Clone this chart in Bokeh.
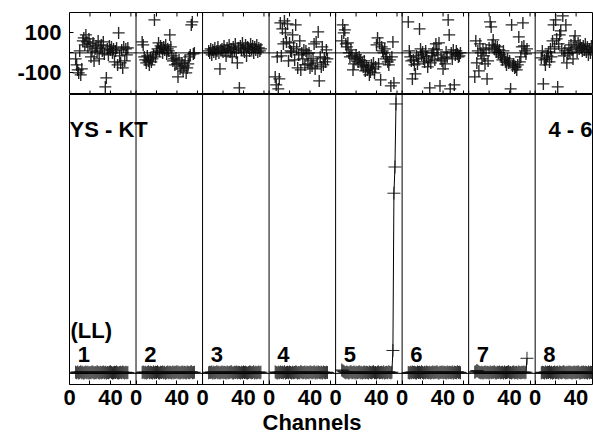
from bokeh.plotting import figure
from bokeh.models import Range1d, FixedTicker, Span, Title
from bokeh.layouts import column
from bokeh.embed import file_html
from bokeh.resources import INLINE
from bokeh.core.properties import value

# ---------------- data ----------------
PANEL_NAMES = ["1", "2", "3", "4", "5", "6", "7", "8"]
PANEL_SPAN = 65                      # channels per IF panel (incl. gap)
CHANNELS = list(range(6, 58))        # plotted channels in each IF
CHANNELS_IF5 = list(range(6, 61))    # IF 5 shows a few more channels

X_TICK_LABELS = [0, 40]
X_MINOR = [20, 60]
PHASE_TICKS = [-100, 100]
PHASE_LIMITS = [-208, 202]
AMP_LIMITS = [-0.04, 1.0]

PHASE_1 = [-30, -60, -85, -100, 10, -110, -80, 60, 75, 40, 90, 55, 30,
           70, 45, -20, 10, 50, -40, 20, 35, 5, 60, -30, 25, 40,
           10, 55, -5, -170, -125, 20, -10, 35, 15, 30, 0, 20, -45,
           10, 25, -60, 100, -15, -50, 15, -75, 30, -40, 20, -10, 25]
PHASE_2 = [55, 40, -20, -35, -50, -15, -40, -60, -25, -45, -30, -10, 165,
           -20, 5, 20, 50, 10, 35, 25, 0, 30, 15, 40, -5, 20,
           10, 90, 30, -15, -40, -30, -60, -25, -55, -120, -35, -80, -70,
           -50, -90, -65, -40, -100, -75, -55, -20, -10, 140, 155, -5, 0]
PHASE_3 = [10, 0, 20, -10, 15, 5, 25, -5, 10, 30, 0, -80, 15,
           20, 5, 35, 10, -15, 25, 15, 40, 5, 20, -20, 30, 10,
           45, 0, -50, 25, -175, 35, 15, 50, 20, 5, 40, -15, 30,
           25, 10, 45, 20, 35, 0, 30, 15, 40, 5, 25, 10, 20]
PHASE_4 = [-120, -160, -20, -180, -130, 150, -15, 120, 45, 160, 100, 55, 145,
           -40, 50, 10, 5, 90, 30, -35, 140, 20, -75, -10, 60, -85,
           0, -30, 15, -60, 10, -5, -55, 0, -75, -40, -65, -30, 45,
           -80, 55, -50, 105, -140, -20, -70, 30, -60, -25, -45, 15, -30]
PHASE_5 = [60, 140, 100, 115, 45, 30, 50, 0, -20, 15, -15, -85, -55,
           -30, -10, -25, -45, -20, -35, -60, -50, -70, -40, -90, -65, -85,
           -75, -110, -95, -60, -80, -50, -100, -70, 40, 75, -55, 50, -135, 30, 10,
           0, 20, -30, -20, -45, -60, -35, -165, -20, 55, -150]
PHASE_6 = [155, 10, -20, -40, -130, -35, -60, -105, -15, -55, -25, 120, 20,
           -10, 5, -30, -45, 10, -20, -70, -40, -175, -50, -15, 0, 20,
           -35, 45, 15, -10, 50, -165, -30, -40, -80, -25, -55, 5, -20,
           165, 90, -180, 0, -30, 15, -160, -10, 10, -5, -20, -15, 0]
PHASE_7 = [-120, 60, -50, 10, -90, 45, 0, -30, 20, -15, -55, 15, -130,
           -40, 25, 155, 130, 40, 65, 20, 35, 5, 30, 0, 15, -10,
           -20, -35, 10, -25, -45, -60, -30, -50, -40, -180, 140, -65, -55,
           -75, -70, -85, -60, 80, -45, -20, 30, 150, 35, 10, -5, 20]
PHASE_8 = [-25, 10, -155, -35, -60, -30, -15, 5, -45, 20, -20, 60, 140,
           30, 165, 70, -170, 45, 90, 110, 20, 185, -15, 10, 140, -50,
           -5, 25, 0, 40, 15, -30, 60, 85, 30, 5, 50, 20, 40, 25,
           10, 35, 15, 45, 5, 30, -10, 20, 0, 35, 15, 25]

AMP_1 = [0.004, 0.002, 0.005, 0.001, 0.003, 0.006, 0.002, 0.004, 0.000, 0.003, 0.005, 0.002, 0.004,
         0.001, 0.003, 0.002, 0.005, 0.004, 0.001, 0.003, 0.002, 0.006, 0.003, 0.001, 0.004, 0.002,
         0.003, 0.005, 0.002, 0.004, 0.001, 0.003, 0.002, 0.004, 0.006, 0.003, 0.001, 0.002, 0.004,
         0.003, 0.005, 0.002, 0.001, 0.003, 0.004, 0.002, 0.005, 0.003, 0.001, 0.004, 0.002, 0.003]
AMP_2 = [0.003, 0.005, 0.002, 0.004, 0.001, 0.003, 0.006, 0.002, 0.004, 0.003, 0.001, 0.005, 0.002,
         0.004, 0.003, 0.006, 0.002, 0.001, 0.004, 0.003, 0.005, 0.002, 0.004, 0.000, 0.003, 0.005,
         0.002, 0.004, 0.003, 0.001, 0.005, 0.002, 0.004, 0.003, 0.006, 0.002, 0.004, 0.001, 0.003,
         0.005, 0.002, 0.004, 0.003, 0.001, 0.005, 0.003, 0.002, 0.004, 0.006, 0.002, 0.003, 0.004]
AMP_3 = [0.002, 0.004, 0.003, 0.005, 0.001, 0.004, 0.002, 0.003, 0.006, 0.002, 0.004, 0.001, 0.003,
         0.005, 0.002, 0.004, 0.003, 0.001, 0.005, 0.002, 0.003, 0.004, 0.006, 0.002, 0.001, 0.004,
         0.003, 0.005, 0.002, 0.004, 0.003, 0.001, 0.004, 0.002, 0.005, 0.003, 0.004, 0.002, 0.001,
         0.003, 0.005, 0.004, 0.002, 0.003, 0.006, 0.001, 0.004, 0.002, 0.003, 0.005, 0.002, 0.004]
AMP_4 = [0.005, 0.003, 0.001, 0.004, 0.002, 0.005, 0.003, 0.004, 0.002, 0.006, 0.001, 0.003, 0.004,
         0.002, 0.005, 0.003, 0.001, 0.004, 0.002, 0.003, 0.005, 0.004, 0.001, 0.003, 0.002, 0.006,
         0.004, 0.002, 0.003, 0.005, 0.001, 0.004, 0.003, 0.002, 0.005, 0.004, 0.002, 0.003, 0.006,
         0.001, 0.004, 0.002, 0.005, 0.003, 0.002, 0.004, 0.001, 0.005, 0.003, 0.002, 0.004, 0.003]
AMP_5 = [0.012, 0.009, 0.007, 0.004, 0.002, 0.005, 0.003, 0.001, 0.004, 0.006, 0.002, 0.003, 0.005,
         0.001, 0.004, 0.002, 0.003, 0.006, 0.002, 0.004, 0.001, 0.003, 0.005, 0.002, 0.004, 0.003,
         0.001, 0.005, 0.003, 0.002, 0.004, 0.006, 0.002, 0.003, 0.001, 0.004, 0.005, 0.002, 0.003,
         0.004, 0.002, 0.005, 0.001, 0.003, 0.004, 0.002, 0.006, 0.003, 0.002, 0.004,
         0.082, 0.646, 0.740, 0.966, 1.500]
AMP_6 = [0.003, 0.001, 0.004, 0.002, 0.005, 0.003, 0.004, 0.002, 0.001, 0.005, 0.003, 0.004, 0.002,
         0.006, 0.003, 0.001, 0.004, 0.002, 0.005, 0.003, 0.002, 0.004, 0.001, 0.003, 0.005, 0.002,
         0.004, 0.003, 0.006, 0.002, 0.001, 0.004, 0.003, 0.005, 0.002, 0.004, 0.003, 0.001, 0.005,
         0.002, 0.004, 0.003, 0.002, 0.005, 0.001, 0.004, 0.003, 0.002, 0.006, 0.003, 0.004, 0.002]
AMP_7 = [0.004, 0.006, 0.010, 0.008, 0.005, 0.003, 0.002, 0.004, 0.001, 0.003, 0.005, 0.002, 0.004,
         0.003, 0.001, 0.005, 0.002, 0.004, 0.003, 0.006, 0.002, 0.001, 0.004, 0.003, 0.005, 0.002,
         0.003, 0.004, 0.001, 0.005, 0.002, 0.003, 0.004, 0.006, 0.002, 0.003, 0.001, 0.004, 0.005,
         0.002, 0.003, 0.004, 0.001, 0.005, 0.003, 0.002, 0.004, 0.003, 0.005, 0.002, 0.004, 0.054]
AMP_8 = [0.002, 0.004, 0.003, 0.001, 0.005, 0.002, 0.004, 0.003, 0.006, 0.002, 0.004, 0.001, 0.003,
         0.005, 0.002, 0.003, 0.004, 0.001, 0.005, 0.003, 0.002, 0.004, 0.006, 0.003, 0.001, 0.004,
         0.002, 0.005, 0.003, 0.004, 0.001, 0.003, 0.005, 0.002, 0.004, 0.003, 0.006, 0.002, 0.001,
         0.004, 0.003, 0.005, 0.002, 0.004, 0.003, 0.001, 0.005, 0.002, 0.004, 0.003, 0.002, 0.004]

PHASES = [PHASE_1, PHASE_2, PHASE_3, PHASE_4, PHASE_5, PHASE_6, PHASE_7, PHASE_8]
AMPS = [AMP_1, AMP_2, AMP_3, AMP_4, AMP_5, AMP_6, AMP_7, AMP_8]
AMP_CHANNELS = [CHANNELS, CHANNELS, CHANNELS, CHANNELS, CHANNELS_IF5, CHANNELS, CHANNELS, CHANNELS]

BASELINE_TEXT = "YS - KT"
IF_RANGE_TEXT = "4 - 6"
POL_TEXT = "(LL)"
X_LABEL = "Channels"

# ---------------- style ----------------
FONT = "Liberation Sans"
FS = "22px"
INK = "black"
W = 593
TOP_H = 94
BOT_H = 340
LEFT = 69
TICK_PX = 4

# shared x scale: IF k occupies [k*PANEL_SPAN, (k+1)*PANEL_SPAN)
x_range = Range1d(0, 512)
offsets = [k * PANEL_SPAN for k in range(len(PANEL_NAMES))]
major = [o + c for o in offsets for c in X_TICK_LABELS]
minor = [o + c for o in offsets for c in X_MINOR]
overrides = {o + c: str(c) for o in offsets for c in X_TICK_LABELS}


def style_inner_axis(ax):
    ax.axis_line_color = None
    ax.major_tick_in = TICK_PX
    ax.major_tick_out = 0
    ax.minor_tick_in = TICK_PX
    ax.minor_tick_out = 0
    ax.major_tick_line_color = INK
    ax.minor_tick_line_color = INK
    ax.major_label_text_font = FONT
    ax.major_label_text_font_style = "bold"
    ax.major_label_text_font_size = FS
    ax.major_label_text_color = INK


def frame_style(p):
    p.xgrid.visible = False
    p.ygrid.visible = False
    p.outline_line_color = INK
    p.outline_line_width = 1
    p.outline_line_alpha = 1
    p.background_fill_color = "white"
    p.border_fill_color = "white"
    for o in offsets[1:]:
        p.add_layout(Span(location=o, dimension="height", line_color=INK, line_width=1))


# ---------------- phase panel ----------------
top = figure(width=W, height=TOP_H, x_range=x_range, y_range=Range1d(*PHASE_LIMITS),
             output_backend="svg", toolbar_location=None, x_axis_location=None,
             min_border_left=LEFT, min_border_right=0, min_border_top=TOP_H - 82,
             min_border_bottom=0)
frame_style(top)
top.add_layout(Span(location=0, dimension="width", line_color=INK, line_width=1))

top.yaxis.ticker = FixedTicker(ticks=PHASE_TICKS, minor_ticks=[0])
top.yaxis.major_label_overrides = {t: str(t) for t in PHASE_TICKS}
style_inner_axis(top.yaxis[0])
top.yaxis.major_label_standoff = 8

# inward channel ticks on the upper and lower edge of the phase frame
units_per_px = (PHASE_LIMITS[1] - PHASE_LIMITS[0]) / 82.0
tick_len = TICK_PX * units_per_px
tx = major + minor
top.segment(x0=tx, y0=[PHASE_LIMITS[1]] * len(tx), x1=tx,
            y1=[PHASE_LIMITS[1] - tick_len] * len(tx), line_color=INK, line_width=1)
top.segment(x0=tx, y0=[PHASE_LIMITS[0]] * len(tx), x1=tx,
            y1=[PHASE_LIMITS[0] + tick_len] * len(tx), line_color=INK, line_width=1)

for o, ph in zip(offsets, PHASES):
    top.scatter([o + c for c in CHANNELS], ph, marker="cross", size=12,
                line_color="#111111", line_width=1.4, line_alpha=0.9)

# ---------------- amplitude panel ----------------
bot = figure(width=W, height=BOT_H, x_range=x_range, y_range=Range1d(*AMP_LIMITS),
             output_backend="svg", toolbar_location=None,
             min_border_left=LEFT, min_border_right=0, min_border_top=0, min_border_bottom=0)
frame_style(bot)
bot.add_layout(Span(location=0, dimension="width", line_color=INK, line_width=1))
bot.yaxis.visible = False
bot.xaxis.ticker = FixedTicker(ticks=major, minor_ticks=minor)
bot.xaxis.major_label_overrides = overrides
style_inner_axis(bot.xaxis[0])
bot.xaxis.major_label_standoff = 5

for o, ch, amp in zip(offsets, AMP_CHANNELS, AMPS):
    xs = [o + c for c in ch]
    bot.line(xs, amp, line_color=INK, line_width=1)
    bot.scatter(xs, amp, marker="cross", size=13, line_color="#111111",
                line_width=1, line_alpha=0.9)

txt = dict(text_font=value(FONT), text_font_style="bold", text_font_size=FS,
           text_color=INK, text_baseline="middle")
bot.text(x=[o + 8 for o in offsets], y=[0.068] * len(offsets), text=PANEL_NAMES,
         text_align="left", **txt)
bot.text(x=[1], y=[0.155], text=[POL_TEXT], text_align="left", **txt)
bot.text(x=[0], y=[0.875], text=[BASELINE_TEXT], text_align="left", **txt)
bot.text(x=[511], y=[0.875], text=[IF_RANGE_TEXT], text_align="right", **txt)

bot.add_layout(Title(text=X_LABEL, align="left", offset=193, standoff=0,
                     text_font=FONT, text_font_style="bold", text_font_size=FS,
                     text_color=INK), "below")

layout = column(top, bot, spacing=0)
open("out.html", "w").write(file_html(layout, INLINE))
